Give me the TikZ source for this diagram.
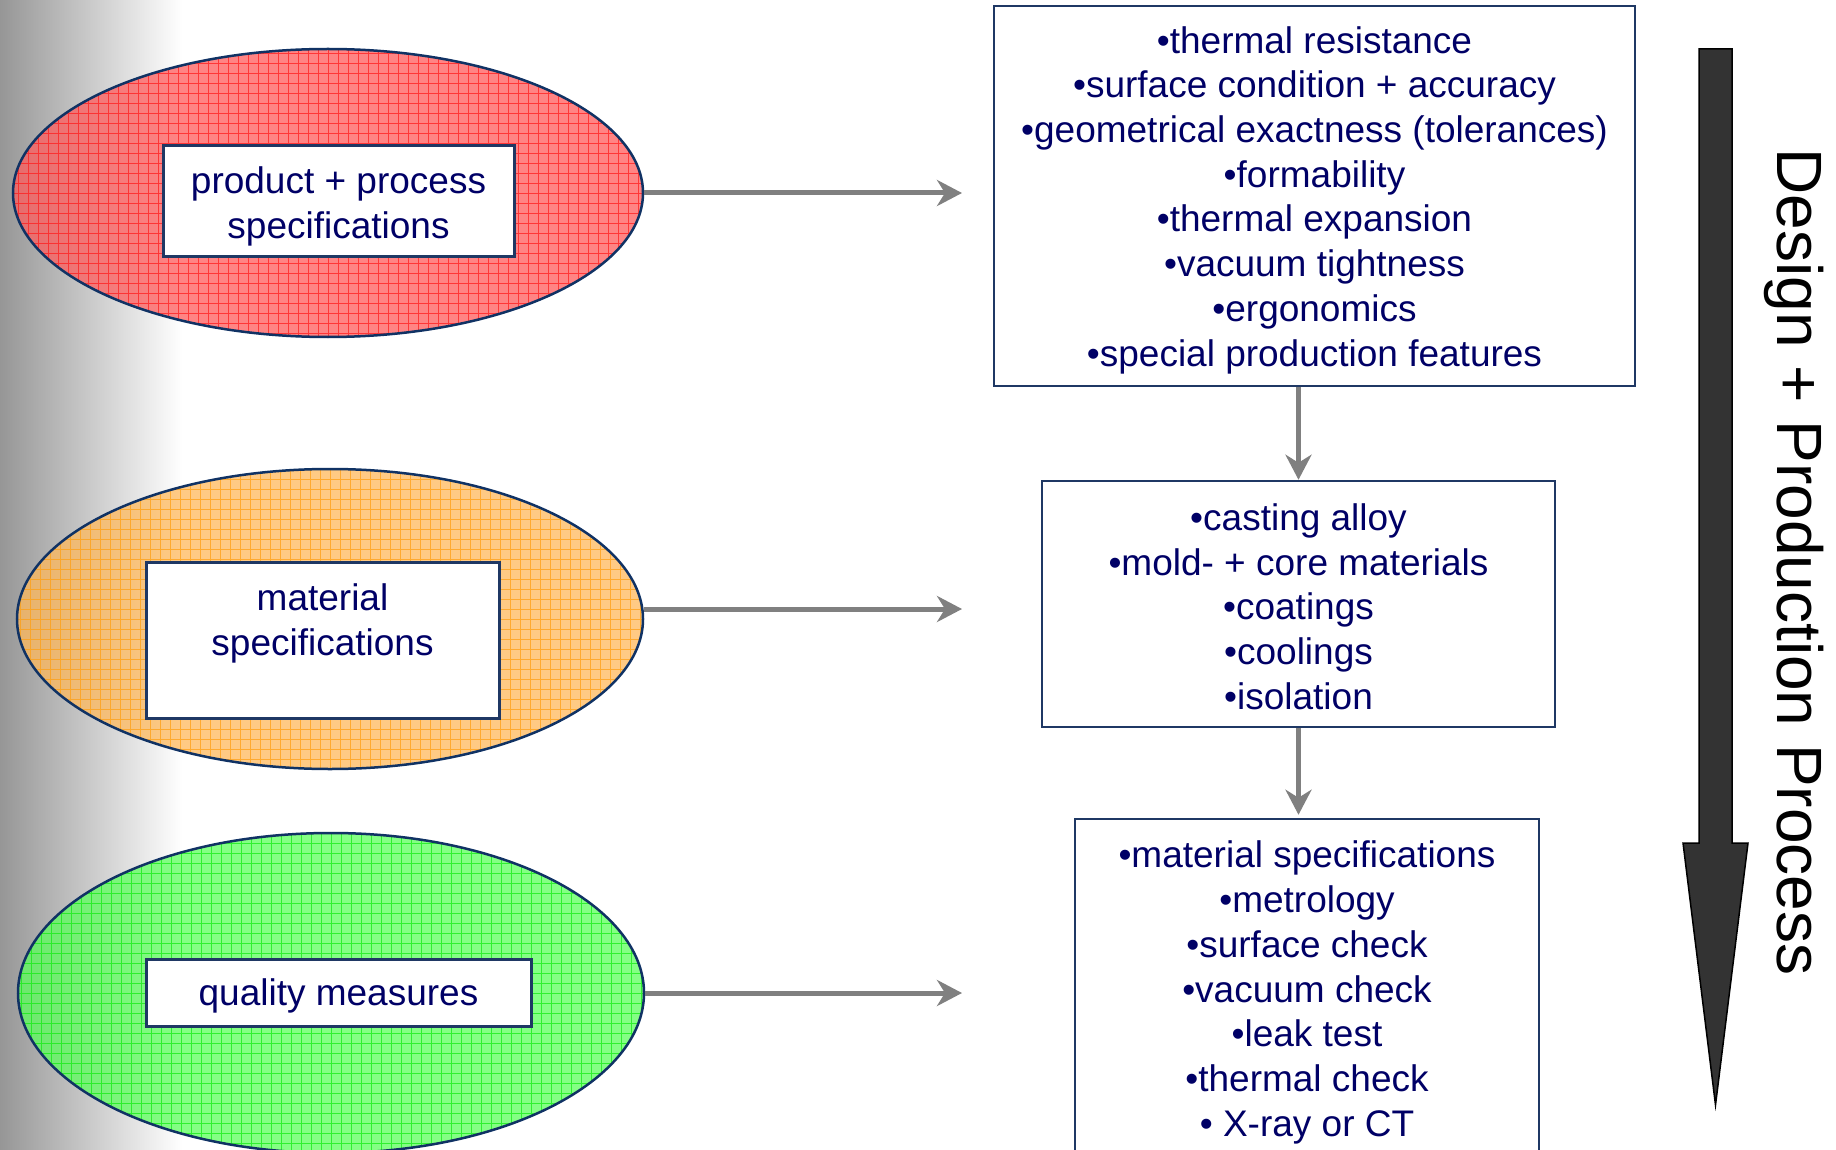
\documentclass[tikz,border=0pt]{standalone}
\usepackage{fontspec}
\setmainfont{Liberation Sans}
\usetikzlibrary{shapes.geometric,arrows.meta}
\definecolor{navytext}{RGB}{0,0,102}
\definecolor{boxline}{RGB}{31,56,100}
\definecolor{ellline}{RGB}{16,50,100}
\definecolor{redfill}{RGB}{255,92,92}
\definecolor{redgrid}{RGB}{255,30,30}
\definecolor{orangefill}{RGB}{255,185,92}
\definecolor{orangegrid}{RGB}{255,160,20}
\definecolor{greenfill}{RGB}{92,255,92}
\definecolor{greengrid}{RGB}{20,235,20}
\definecolor{arrowgray}{RGB}{128,128,128}
\definecolor{bigarrowfill}{RGB}{51,51,51}
\tikzset{
  spec/.style={ellipse, draw=ellline, line width=2.5pt, fill opacity=0.75, inner sep=0pt},
  gridfill/.style={path picture={\draw[#1, line width=0.9pt, draw opacity=0.75]
      ([xshift=-5pt,yshift=-5pt]path picture bounding box.south west) grid[step=10pt]
      ([xshift=5pt,yshift=5pt]path picture bounding box.north east);}},
  txt/.style={text=navytext, font=\fontsize{37}{44.7}\selectfont, align=center, inner sep=0pt},
  rbox/.style={draw=boxline, line width=2.5pt, fill=white},
  lbox/.style={draw=boxline, line width=3pt, fill=white},
  conn/.style={draw=arrowgray, line width=5pt, -{Stealth[length=25pt,width=26pt,inset=8pt]}},
}
\begin{document}
\begin{tikzpicture}[x=1pt,y=-1pt]
\useasboundingbox (0,0) rectangle (1836,1150);
\fill[white] (0,0) rectangle (1836,1150);
\shade[left color={rgb,255:red,150;green,150;blue,150}, right color=white] (0,0) rectangle (182,1150);

% ellipses
\node[spec, fill=redfill, gridfill=redgrid, minimum width=630pt, minimum height=288pt] (e1) at (328,193) {};
\node[spec, fill=orangefill, gridfill=orangegrid, minimum width=626pt, minimum height=300pt] (e2) at (330,619) {};
\node[spec, fill=greenfill, gridfill=greengrid, minimum width=626pt, minimum height=320pt] (e3) at (331,993) {};

% left boxes
\node[lbox, minimum width=351pt, minimum height=111pt] (l1) at (338.5,201.5) {};
\node[txt] (l1t) at (338.5,206.5) {product + process\\specifications};
\node[lbox, minimum width=353pt, minimum height=156pt] (l2) at (322.5,640) {};
\node[txt] (l2t) at (322.5,623.5) {material\\specifications};
\node[lbox, minimum width=385pt, minimum height=67pt] (l3) at (338.5,992.5) {};
\node[txt] (l3t) at (338.5,996) {quality measures};

% right boxes
\node[rbox, minimum width=641pt, minimum height=380pt] (r1) at (1314.5,196) {};
\node[txt] (r1t) at (1314.5,200) {%
  •thermal resistance\\•surface condition + accuracy\\•geometrical exactness (tolerances)\\%
  •formability\\•thermal expansion\\•vacuum tightness\\•ergonomics\\•special production features};
\node[rbox, minimum width=513pt, minimum height=246pt] (r2) at (1298.5,604) {};
\node[txt] (r2t) at (1298.5,606.5) {%
  •casting alloy\\•mold- + core materials\\•coatings\\•coolings\\•isolation};
\node[rbox, minimum width=464pt, minimum height=342pt] (r3) at (1307,990) {};
\node[txt] (r3t) at (1307,992.5) {%
  •material specifications\\•metrology\\•surface check\\•vacuum check\\•leak test\\•thermal check\\• X-ray or CT};

% connectors
\coordinate (h1) at (962,193);
\coordinate (h2) at (962,609);
\coordinate (h3) at (962,993);
\draw[conn] (e1.east) -- (h1);
\draw[conn] ([yshift=10pt]e2.east) -- (h2);
\draw[conn] (e3.east) -- (h3);
\draw[conn] (r1.south -| r2.north) -- (r2.north);
\draw[conn] (r2.south) -- ([yshift=3pt]r2.south |- r3.north);

% big process arrow
\draw[fill=bigarrowfill, draw=black, line width=1.5pt, line join=miter]
  (1699,49) -- (1732,49) -- (1732,843) -- (1748,843) -- (1715.5,1105) -- (1683,843) -- (1699,843) -- cycle;
\node[rotate=-90, anchor=base, inner sep=0pt, font=\fontsize{64}{76}\selectfont] (proc) at (1777,562) {Design + Production Process};
\end{tikzpicture}
\end{document}
